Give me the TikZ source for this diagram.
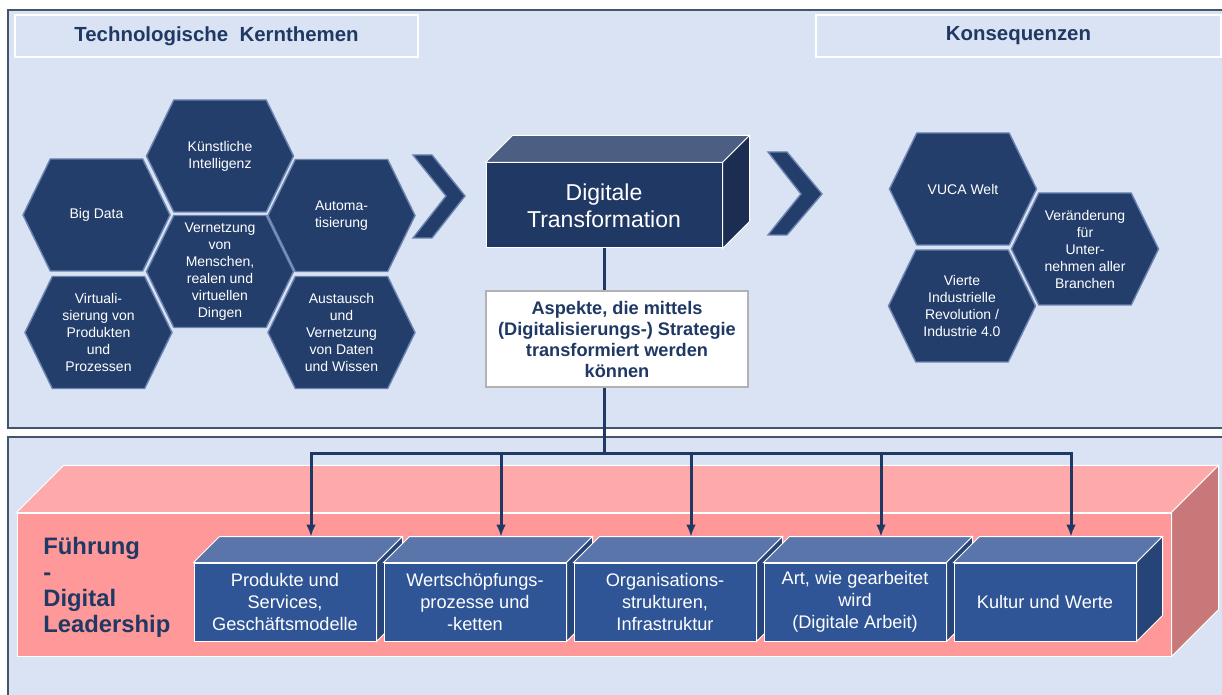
\documentclass[tikz,border=0pt]{standalone}
\usepackage{fontspec}
\setmainfont{Liberation Sans}
\usetikzlibrary{shapes.symbols,arrows.meta}
\definecolor{navy}{RGB}{31,56,100}
\definecolor{hexblue}{RGB}{36,62,108}
\definecolor{hexedge}{RGB}{105,130,175}
\definecolor{panelbg}{RGB}{218,227,243}
\definecolor{panelline}{RGB}{68,84,106}
\definecolor{dttop}{RGB}{76,95,130}
\definecolor{dtside}{RGB}{27,45,80}
\definecolor{pinkfront}{RGB}{255,153,153}
\definecolor{pinktop}{RGB}{255,170,170}
\definecolor{pinkside}{RGB}{200,120,120}
\definecolor{boxfront}{RGB}{47,85,151}
\definecolor{boxtop}{RGB}{90,117,170}
\definecolor{boxside}{RGB}{38,68,120}
\begin{document}
\begin{tikzpicture}[x=0.5pt,y=-0.5pt,>={Latex[length=6pt,width=5pt]}]
    \tikzstyle{panel}=[fill=panelbg, draw=panelline, line width=0.7pt]
    \tikzstyle{head}=[fill=panelbg, draw=white, line width=0.6pt, minimum height=21pt, text=navy, font=\bfseries\fontsize{10.2}{12}\selectfont]
    \tikzstyle{hexa}=[signal, signal to=east and west, signal pointer angle=128, minimum width=73.5pt, minimum height=56pt, inner sep=1pt, fill=hexblue, draw=hexedge, line width=0.7pt, text=white, align=center, font=\fontsize{7}{8.5}\selectfont]
    \tikzstyle{chev}=[fill=hexblue, draw=hexedge, line width=0.7pt]
    \tikzstyle{cube}=[draw=white, line width=0.5pt]
    \tikzstyle{link}=[draw=navy, line width=1.5pt]
    \tikzstyle{box}=[cube, fill=boxfront, minimum width=91pt, minimum height=39pt, inner sep=1pt, text=white, align=center, font=\fontsize{9.1}{11}\selectfont]

    \useasboundingbox (0,0) rectangle (1222,695);
    \fill[white] (0,0) rectangle (1222,695);
    \draw[panel] (8,10) rectangle (1240,428);
    \draw[panel] (8,437) rectangle (1240,710);

    \node[head, minimum width=201.5pt] (H1) at (216.5,36) {Technologische\ \ Kernthemen};
    \node[head, minimum width=202.5pt] (H2) at (1018.5,36) {Konsequenzen};

    \node[hexa] (BD) at (96.5,215) {Big Data};
    \node[hexa] (KI) at (220,156) {Künstliche\\Intelligenz};
    \node[hexa] (AU) at (341.5,215.5) {Automa-\\tisierung};
    \node[hexa] (VZ) at (220,271.5) {Vernetzung\\von\\Menschen,\\realen und\\virtuellen\\Dingen};
    \node[hexa] (VI) at (98.5,332.5) {Virtuali-\\sierung von\\Produkten\\und\\Prozessen};
    \node[hexa] (AT) at (341.5,332.5) {Austausch\\und\\Vernetzung\\von Daten\\und Wissen};

    \node[hexa] (VU) at (963,189) {VUCA Welt};
    \node[hexa] (VR) at (962,306) {Vierte\\Industrielle\\Revolution /\\Industrie 4.0};
    \node[hexa] (VA) at (1085,249) {Veränderung\\für\\Unter-\\nehmen aller\\Branchen};

    \draw[chev] (413,155) -- (432,155) -- (465,196) -- (432,238) -- (413,238) -- (446,196) -- cycle;
    \draw[chev] (768,152) -- (787,152) -- (822,194) -- (787,235) -- (768,235) -- (801,194) -- cycle;

    \node[cube, fill=navy, minimum width=118pt, minimum height=42.5pt, text=white, align=center, font=\fontsize{11.5}{13.5}\selectfont] (DT) at (604,205.5) {Digitale\\Transformation};
    \draw[cube, fill=dttop] (DT.north west) -- ++(27,-27) -- ([shift={(27,-27)}]DT.north east) -- (DT.north east) -- cycle;
    \draw[cube, fill=dtside] (DT.north east) -- ++(27,-27) -- ([shift={(27,-27)}]DT.south east) -- (DT.south east) -- cycle;

    \node[draw=gray!60, fill=white, line width=1pt, minimum width=131pt, minimum height=48pt, inner sep=1pt, align=center, text=navy, font=\bfseries\fontsize{9.1}{10.5}\selectfont] (Asp) at (617,339) {Aspekte, die mittels\\(Digitalisierungs-) Strategie\\transformiert werden\\können};

    \node[cube, fill=pinkfront, minimum width=577pt, minimum height=71.5pt] (Lead) at (594,584.5) {};
    \draw[cube, fill=pinktop] (Lead.north west) -- ++(47,-47) -- ([shift={(47,-47)}]Lead.north east) -- (Lead.north east) -- cycle;
    \draw[cube, fill=pinkside] (Lead.north east) -- ++(47,-47) -- ([shift={(47,-47)}]Lead.south east) -- (Lead.south east) -- cycle;
    \node[anchor=west, inner sep=0pt, align=left, text=navy, font=\bfseries\fontsize{11.9}{13}\selectfont] (Fue) at (43,587) {Führung\\-\\Digital\\Leadership};

    \foreach \b/\x/\txt in {B1/285/{Produkte und\\Services,\\Geschäftsmodelle},
                            B2/475/{Wertschöpfungs-\\prozesse und\\-ketten},
                            B3/665/{Organisations-\\strukturen,\\Infrastruktur},
                            B4/855/{Art, wie gearbeitet\\wird\\(Digitale Arbeit)},
                            B5/1045/{Kultur und Werte}} {
        \node[box] (\b) at (\x,602) {\txt};
        \draw[cube, fill=boxtop] (\b.north west) -- ++(26,-26) -- ([shift={(26,-26)}]\b.north east) -- (\b.north east) -- cycle;
        \draw[cube, fill=boxside] (\b.north east) -- ++(26,-26) -- ([shift={(26,-26)}]\b.south east) -- (\b.south east) -- cycle;
        \coordinate (t\b) at ([shift={(26,-26)}]\b.north);
    }

    \coordinate (Bus) at (604,454);
    \draw[link] (DT.south) -- (DT.south |- Asp.north);
    \draw[link] (Asp.south -| Bus) -- (Bus);
    \draw[link, line cap=rect] (tB1 |- Bus) -- (tB5 |- Bus);
    \foreach \b in {B1,B2,B3,B4,B5}
        \path [->] (t\b |- Bus) edge[link] (t\b);
\end{tikzpicture}
\end{document}
